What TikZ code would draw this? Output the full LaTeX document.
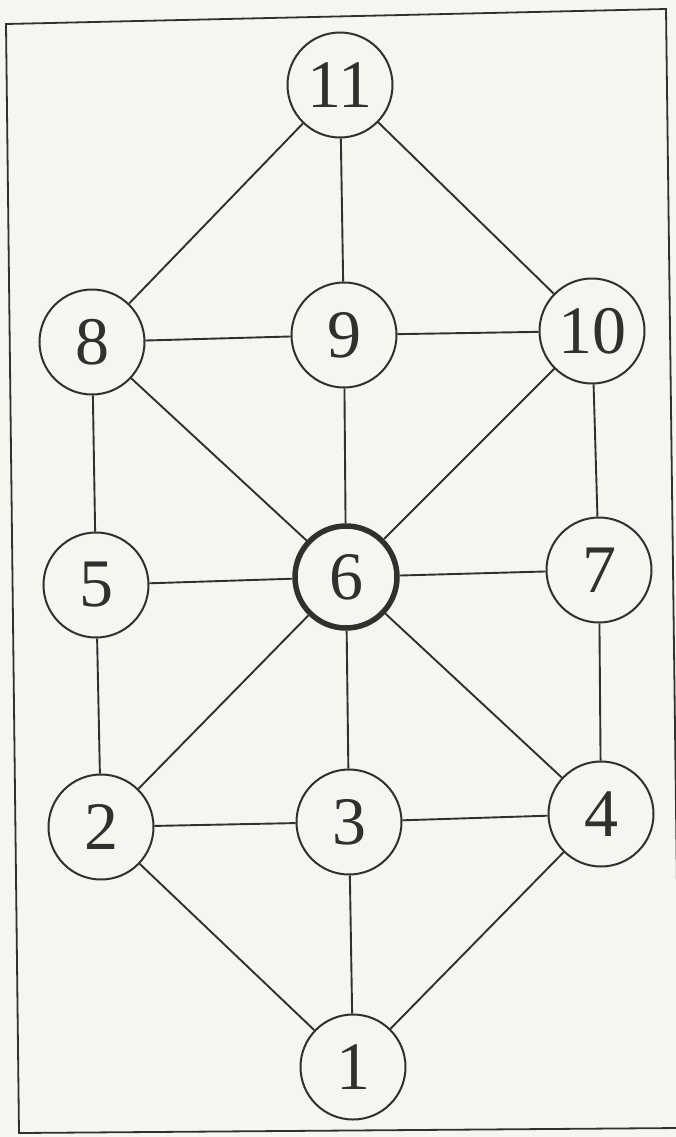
\documentclass[tikz,border=0pt]{standalone}
\usepackage{fontspec}
\setmainfont{Liberation Serif}
\definecolor{paper}{RGB}{246,245,240}
\definecolor{ink}{RGB}{50,47,47}
\tikzset{
  vtx/.style={circle, draw=ink, line width=2pt, minimum size=105pt, inner sep=0pt,
    text=ink, font=\fontsize{68}{74}\selectfont},
  hub/.style={vtx, line width=5.5pt, minimum size=102pt},
  edge/.style={draw=ink, line width=1.9pt}
}
\begin{document}
\begin{tikzpicture}[x=1pt,y=-1pt]
\useasboundingbox (0,0) rectangle (676,1137);
\fill[paper] (0,0) rectangle (676,1137);
\begin{scope}
\clip (0,0) rectangle (676,1137);
\draw[ink, line width=1.8pt] (6,24) -- (666,9) -- (680,1128) -- (19,1133) -- cycle;
\end{scope}
\node[vtx] (n11) at (340,85) {11};
\node[vtx] (n8) at (92,342) {8};
\node[vtx] (n9) at (344,335) {9};
\node[vtx] (n10) at (592,331) {10};
\node[vtx] (n5) at (96,585) {5};
\node[hub] (n6) at (346,577) {6};
\node[vtx] (n7) at (599,570) {7};
\node[vtx] (n2) at (101,827) {2};
\node[vtx] (n3) at (349,822) {3};
\node[vtx] (n4) at (601,814) {4};
\node[vtx] (n1) at (353,1067) {1};
\foreach \a/\b in {n11/n8, n11/n9, n11/n10, n8/n9, n9/n10, n8/n5, n8/n6, n9/n6, n10/n6, n10/n7,
  n5/n6, n6/n7, n5/n2, n6/n2, n6/n3, n6/n4, n7/n4, n2/n3, n3/n4, n2/n1, n3/n1, n4/n1}
  \draw[edge] (\a) -- (\b);
\end{tikzpicture}
\end{document}
